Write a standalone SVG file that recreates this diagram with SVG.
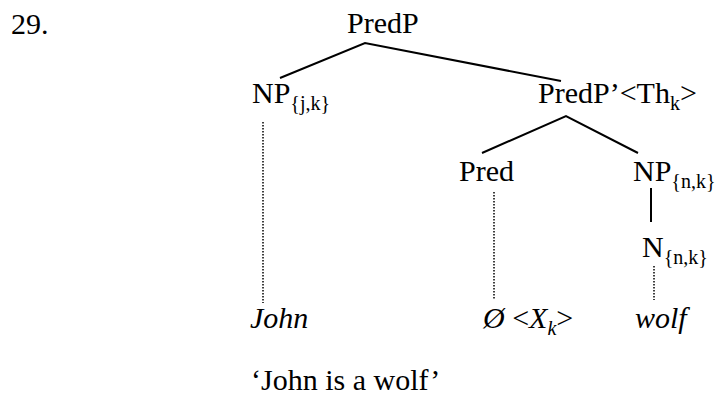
<svg xmlns="http://www.w3.org/2000/svg" width="720" height="407" viewBox="0 0 720 407">
<style>
text{font-family:"Liberation Serif","Times New Roman",serif;font-size:30px;fill:#000}
.sub{font-size:20px}
.it{font-style:italic}
.e{stroke:#000;stroke-width:2;fill:none}
.d{stroke:#000;stroke-width:1.5;stroke-dasharray:1.5 1.5;fill:none}
</style>
<rect width="720" height="407" fill="#fff"/>
<text x="11" y="34">29.</text>
<g id="PredP"><text x="347" y="33">PredP</text></g>
<g id="NP1"><text x="252" y="103">NP<tspan class="sub" dy="7">{j,k}</tspan></text></g>
<g id="PredPbar"><text x="538" y="103">PredP’&lt;Th<tspan class="sub" dy="7">k</tspan><tspan dy="-7">&gt;</tspan></text></g>
<g id="Pred"><text x="459" y="181">Pred</text></g>
<g id="NP2"><text x="633" y="181">NP<tspan class="sub" dy="7">{n,k}</tspan></text></g>
<g id="N"><text x="642" y="257">N<tspan class="sub" dy="7">{n,k}</tspan></text></g>
<g id="John"><text class="it" x="250" y="328">John</text></g>
<g id="Null"><text x="483" y="328"><tspan class="it">Ø</tspan> &lt;<tspan class="it">X</tspan><tspan class="sub it" dy="7">k</tspan><tspan dy="-7">&gt;</tspan></text></g>
<g id="wolf"><text class="it" x="635" y="328">wolf</text></g>
<text x="251" y="390">‘John is a wolf’</text>
<g id="connectors">
<path class="e" d="M280,78 L365,43 L561,81"/>
<path class="e" d="M482,153 L566,116 L638,153"/>
<path class="e" d="M651,188 V222"/>
<path class="d" d="M263,122 V303"/>
<path class="d" d="M494,192 V300"/>
<path class="d" d="M654,266 V300"/>
</g>
</svg>
